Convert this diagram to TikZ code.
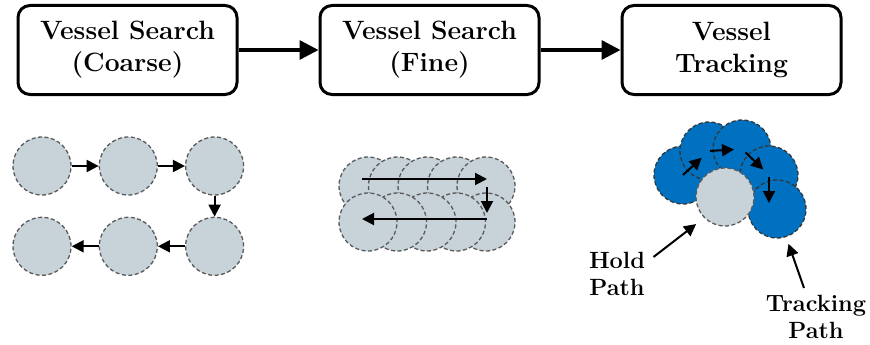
\documentclass[tikz,border=0pt]{standalone}
\usetikzlibrary{arrows.meta,positioning,calc}

\definecolor{spotgray}{HTML}{C7D2D9}
\definecolor{trackblue}{HTML}{0070C0}
\definecolor{rimgray}{HTML}{5A5A5A}

\begin{document}
\begin{tikzpicture}[
  x=1pt, y=-1pt,
  >=Stealth,
  every node/.style={font=\bfseries},
  stage/.style={draw, line width=3pt, rounded corners=12pt, align=center,
                minimum width=219pt, minimum height=89pt,
                font=\fontsize{26.5}{32}\selectfont\bfseries},
  spot/.style={circle, draw=rimgray, dash pattern=on 4pt off 2.5pt,
               line width=1.3pt, fill=spotgray, minimum size=58pt, inner sep=0pt},
  live/.style={spot, fill=trackblue, draw=rimgray!60!black},
  flow/.style={-{Triangle[length=19pt,width=19pt]}, line width=3.3pt},
  hop/.style={-{Triangle[length=12pt,width=12pt]}, line width=2pt},
  tag/.style={align=center, font=\fontsize{23.5}{26.5}\selectfont\bfseries},
]
\useasboundingbox (0,0) rectangle (870,345);

% stages along the top
\node[stage] (coarse) at (127.5,50) {Vessel Search\\(Coarse)};
\node[stage, right=80pt of coarse] (fine) {Vessel Search\\(Fine)};
\node[stage, right=80pt of fine] (track) {Vessel\\Tracking};

\draw[flow] (coarse) -- (fine);
\draw[flow] (fine) -- (track);

% coarse search: snake over six spots
\node[spot] (c1) at (42,166) {};
\node[spot, right=27pt of c1] (c2) {};
\node[spot, right=27pt of c2] (c3) {};
\node[spot, below=21pt of c3] (c6) {};
\node[spot, left=27pt of c6] (c5) {};
\node[spot, left=27pt of c5] (c4) {};

\draw[hop] (c1) -- (c2);
\draw[hop] (c2) -- (c3);
\draw[hop] (c3) -- (c6);
\draw[hop] (c6) -- (c5);
\draw[hop] (c5) -- (c4);

% fine search: overlapping spots, second row drawn back to front
\foreach \i in {1,...,5}
  \node[spot] (f\i) at ({338.5+29.5*\i},186) {};
\foreach \i in {5,4,...,1}
  \node[spot] (g\i) at ({338.5+29.5*\i},222) {};

\draw[hop] ([shift={(-6,-7)}]f1.center) -- ([shift={(1,-7)}]f5.center);
\draw[hop] ([shift={(1,1)}]f5.center) -- ([shift={(1,-9)}]g5.center);
\draw[hop] ([shift={(1,-3)}]g5.center) -- ([shift={(-6,-3)}]g1.center);

% tracking: spots follow the vessel, hold spot on top
\node[live] (t1) at (683,175) {};
\node[live] (t2) at (709,151) {};
\node[live] (t3) at (742,149) {};
\node[live] (t4) at (769,175) {};
\node[live] (t5) at (777,209) {};
\node[spot] (hold) at (725,197) {};

\draw[hop, shorten >=10pt] (t1.center) -- (t2.center);
\draw[hop, shorten <=1pt, shorten >=8pt] (t2.center) -- (t3.center);
\draw[hop, shorten <=5pt, shorten >=8pt] (t3.center) -- (t4.center);
\draw[hop, shorten <=2pt, shorten >=6pt] (t4.center) -- (t4.center |- t5.center);

% labels
\node[tag] (holdtag) at (617,274) {Hold\\Path};
\node[tag] (tracktag) at (816,317) {Tracking\\Path};

\coordinate (holdfoot) at ([shift={(5,8)}]holdtag.north east);
\coordinate (trackfoot) at ([shift={(-12,-4)}]tracktag.north);
\draw[hop, shorten >=10pt] (holdfoot) -- (hold.south west);
\draw[hop, shorten >=7pt] (trackfoot) -- (t5.-72);
\end{tikzpicture}
\end{document}
